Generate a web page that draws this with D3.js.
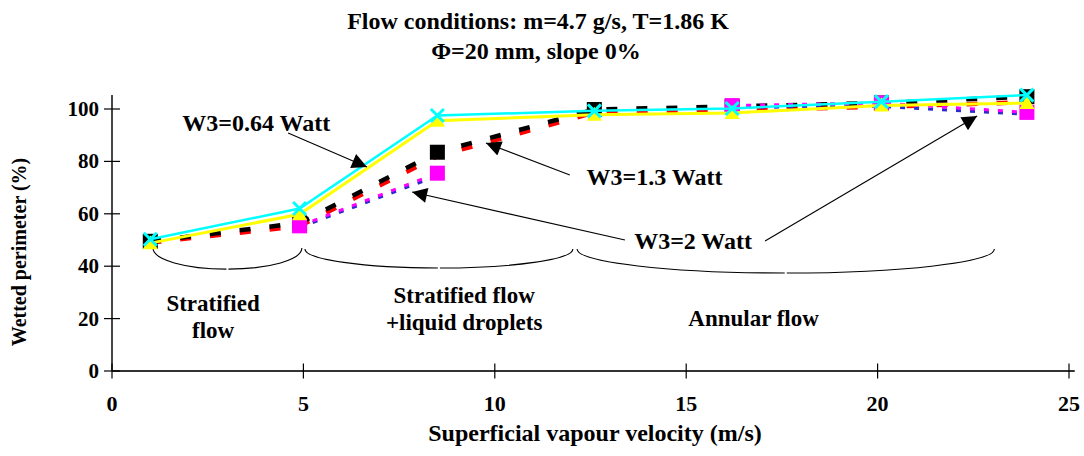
<!DOCTYPE html>
<html>
<head>
<meta charset="utf-8">
<script src="https://cdn.jsdelivr.net/npm/d3@7/dist/d3.min.js"></script>
<style>
  html, body { margin: 0; padding: 0; background: #fff; }
  svg { display: block; }
</style>
</head>
<body>
<svg id="chart" width="1084" height="456"></svg>
<script>
// ---------------- data ----------------
const titleLines = ["Flow conditions: m=4.7 g/s, T=1.86 K", "\u03A6=20 mm, slope 0%"];
const xTitle = "Superficial vapour velocity (m/s)";
const yTitle = "Wetted perimeter (%)";
const xTicks = [0, 5, 10, 15, 20, 25];
const yTicks = [0, 20, 40, 60, 80, 100];

const velocity = [1.0, 4.9, 8.5, 12.6, 16.2, 20.1, 23.9];
const w064a = [48.8, 59.8, 95.5, 97.8, 98.5, 101.3, 102.3];   // yellow, triangles
const w064b = [50.3, 62.0, 97.5, 99.3, 100.2, 102.8, 105.3];  // cyan, crosses
const w13a  = [49.0, 55.3, 82.0, 98.6, 99.7, 100.8, 102.6];   // red, dashed
const w13b  = [49.5, 56.5, 83.5, 99.8, 101.0, 102.3, 104.7];  // black, dashed, squares
const w2a   = [null, 54.8, 74.5, null, 100.6, 101.0, 98.0];   // blue, dotted
const w2b   = [null, 55.4, 75.5, null, 101.3, 102.3, 98.7];   // magenta, dotted, squares

const annotationLabels = ["W3=0.64 Watt", "W3=1.3 Watt", "W3=2 Watt"];
const regionLabels = [["Stratified", "flow"], ["Stratified flow", "+liquid droplets"], ["Annular flow"]];

// ---------------- layout ----------------
const FONT = "'Liberation Serif', 'Times New Roman', 'DejaVu Serif', serif";
const svg = d3.select("#chart");
const x = d3.scaleLinear().domain([0, 25]).range([112, 1069]);
const y = d3.scaleLinear().domain([0, 100]).range([371, 109]);

function txt(sel, size) {
  return sel.attr("font-family", FONT).attr("font-weight", "bold").attr("font-size", size).attr("fill", "#000");
}

const series = [
  {values: w13a,  color: "#ff0000", width: 4.5, dash: "11,19", marker: null},
  {values: w13b,  color: "#000000", width: 4.5, dash: "11,19", marker: "square"},
  {values: w2a,   color: "#2a2ad0", width: 3,   dash: "5,9",   marker: null},
  {values: w2b,   color: "#ff00ff", width: 3,   dash: "5,9",   marker: "square"},
  {values: w064a, color: "#ffff00", width: 3,   dash: null,    marker: "triangle"},
  {values: w064b, color: "#00ffff", width: 2.5, dash: null,    marker: "cross"}
];

// ---------------- title ----------------
txt(svg.append("text"), 24).attr("x", 538).attr("y", 29).attr("text-anchor", "middle").text(titleLines[0]);
txt(svg.append("text"), 24).attr("x", 536).attr("y", 59).attr("text-anchor", "middle").text(titleLines[1]);

// ---------------- axes ----------------
const axisG = svg.append("g");
axisG.append("line").attr("x1", x(0)).attr("x2", x(0)).attr("y1", y(0)).attr("y2", y(105.3))
  .attr("stroke", "#333").attr("stroke-width", 1.8);
axisG.append("line").attr("x1", x(0)).attr("x2", x(25.15)).attr("y1", y(0)).attr("y2", y(0))
  .attr("stroke", "#333").attr("stroke-width", 1.8);

axisG.selectAll(".yt").data(yTicks).enter().append("line")
  .attr("x1", x(0) - 8).attr("x2", x(0) + 8)
  .attr("y1", d => y(d)).attr("y2", d => y(d))
  .attr("stroke", "#000").attr("stroke-width", 1.2);
axisG.selectAll(".xt").data(xTicks).enter().append("line")
  .attr("x1", d => x(d)).attr("x2", d => x(d))
  .attr("y1", y(0) - 7.5).attr("y2", y(0) + 7.5)
  .attr("stroke", "#000").attr("stroke-width", 1.2);

txt(axisG.selectAll(".ytl").data(yTicks).enter().append("text"), 21)
  .attr("x", x(0) - 13).attr("y", d => y(d) + 7)
  .attr("text-anchor", "end").text(d => d);
txt(axisG.selectAll(".xtl").data(xTicks).enter().append("text"), 22)
  .attr("x", d => x(d)).attr("y", 411)
  .attr("text-anchor", "middle").text(d => d);

txt(svg.append("text"), 24).attr("x", 595).attr("y", 441).attr("text-anchor", "middle").text(xTitle);
txt(svg.append("text"), 20).attr("transform", "translate(26,252) rotate(-90)").attr("text-anchor", "middle").text(yTitle);

// ---------------- braces ----------------
const braces = [
  {x0: 1.07, x1: 4.96, top: 46.9, bot: 38.9},
  {x0: 5.04, x1: 12.04, top: 46.6, bot: 39.3},
  {x0: 12.15, x1: 23.05, top: 46.6, bot: 37.4}
];
braces.forEach(b => {
  const X0 = x(b.x0), X1 = x(b.x1), T = y(b.top), B = y(b.bot);
  const XM = (X0 + X1) / 2;
  const w = XM - X0, h = B - T;
  const p = d3.path();
  p.moveTo(X0, T);
  p.bezierCurveTo(X0, T + h * 0.55, XM - 1 - w * 0.55, B, XM - 1, B);
  p.moveTo(XM + 1, B);
  p.bezierCurveTo(XM + 1 + w * 0.55, B, X1, T + h * 0.55, X1, T);
  svg.append("path").attr("d", p.toString()).attr("fill", "none")
    .attr("stroke", "#000").attr("stroke-width", 1.1);
});

// region labels
const regionPos = [[2.64, 22.9, 12.6], [9.2, 26.0, 15.6], [16.76, 17.2]];
regionLabels.forEach((lines, i) => {
  lines.forEach((t, j) => {
    txt(svg.append("text"), 23).attr("x", x(regionPos[i][0])).attr("y", y(regionPos[i][j + 1]))
      .attr("text-anchor", "middle").text(t);
  });
});

// ---------------- series ----------------
const line = d3.line().defined(d => d !== null).x((d, i) => x(velocity[i])).y(d => y(d));
series.forEach(s => {
  const path = svg.append("path").attr("d", line(s.values)).attr("fill", "none")
    .attr("stroke", s.color).attr("stroke-width", s.width);
  if (s.dash) path.attr("stroke-dasharray", s.dash);
  const g = svg.append("g");
  s.values.forEach((v, i) => {
    if (v === null) return;
    const cx = x(velocity[i]), cy = y(v);
    if (s.marker === "square") {
      g.append("rect").attr("x", cx - 7.5).attr("y", cy - 7.5).attr("width", 15).attr("height", 15)
        .attr("fill", s.color);
    } else if (s.marker === "triangle") {
      g.append("path").attr("d", `M${cx},${cy - 8}L${cx + 7.5},${cy + 6}L${cx - 7.5},${cy + 6}Z`)
        .attr("fill", s.color);
    } else if (s.marker === "cross") {
      g.append("path").attr("d", `M${cx - 6.5},${cy - 6.5}L${cx + 6.5},${cy + 6.5}M${cx - 6.5},${cy + 6.5}L${cx + 6.5},${cy - 6.5}`)
        .attr("stroke", s.color).attr("stroke-width", 3);
    }
  });
});

// ---------------- annotations ----------------
const defs = svg.append("defs");
defs.append("marker").attr("id", "ah").attr("viewBox", "0 0 10 10")
  .attr("refX", 10).attr("refY", 5).attr("markerWidth", 18).attr("markerHeight", 15)
  .attr("markerUnits", "userSpaceOnUse").attr("orient", "auto")
  .append("path").attr("d", "M0,0L10,5L0,10Z").attr("fill", "#000");

const arrows = [
  {from: [4.60, 90.8], to: [6.66, 77.9]},
  {from: [11.96, 74.8], to: [9.77, 87.0]},
  {from: [13.40, 50.0], to: [7.84, 68.3]},
  {from: [17.06, 49.6], to: [22.6, 97.3]}
];
arrows.forEach(a => {
  svg.append("line").attr("x1", x(a.from[0])).attr("y1", y(a.from[1]))
    .attr("x2", x(a.to[0])).attr("y2", y(a.to[1]))
    .attr("stroke", "#000").attr("stroke-width", 1.1).attr("marker-end", "url(#ah)");
});

const labelPos = [[3.77, 91.6], [14.17, 71.0], [15.18, 46.6]];
annotationLabels.forEach((t, i) => {
  txt(svg.append("text"), 24).attr("x", x(labelPos[i][0])).attr("y", y(labelPos[i][1]))
    .attr("text-anchor", "middle").text(t);
});
</script>
</body>
</html>
